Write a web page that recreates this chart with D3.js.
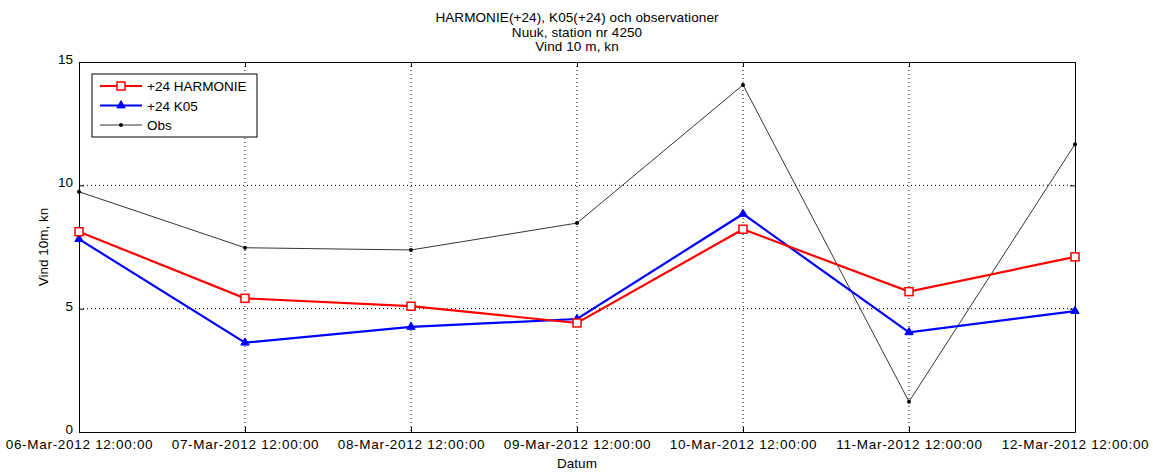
<!DOCTYPE html>
<html><head><meta charset="utf-8">
<script src="https://cdn.jsdelivr.net/npm/d3@7"></script>
<style>body{margin:0;background:#fff}text{font-family:"Liberation Sans",Arial,sans-serif}</style>
</head><body><svg id="c" width="1153" height="475"></svg>
<script>
const dates = ["06-Mar-2012 12:00:00","07-Mar-2012 12:00:00","08-Mar-2012 12:00:00","09-Mar-2012 12:00:00","10-Mar-2012 12:00:00","11-Mar-2012 12:00:00","12-Mar-2012 12:00:00"];
const harmonie = [8.12, 5.42, 5.1, 4.42, 8.22, 5.69, 7.1];
const k05 = [7.82, 3.62, 4.26, 4.58, 8.84, 4.04, 4.9];
const obs = [9.74, 7.47, 7.38, 8.47, 14.07, 1.23, 11.67];
const yTicks = [0, 5, 10, 15];
const titleLines = ["HARMONIE(+24), K05(+24) och observationer","Nuuk, station nr 4250","Vind 10 m, kn"];

const svg = d3.select("#c");
const L=79, R=1075, T=62, B=432;
const FS = 13.5;
const x = d3.scalePoint().domain(d3.range(dates.length)).range([L,R]);
const y = d3.scaleLinear().domain([0,15]).range([B,T]);

// grid
const g = svg.append("g");
g.selectAll(".gx").data(d3.range(1,dates.length-1)).join("line")
 .attr("x1",d=>x(d)).attr("x2",d=>x(d)).attr("y1",T).attr("y2",B)
 .attr("stroke","#000").attr("stroke-width",1).attr("stroke-dasharray","1,3");
g.selectAll(".gy").data(yTicks.slice(1,-1)).join("line")
 .attr("x1",L).attr("x2",R).attr("y1",d=>y(d)).attr("y2",d=>y(d))
 .attr("stroke","#000").attr("stroke-width",1).attr("stroke-dasharray","1,3");

// axes
const ax = svg.append("g").attr("transform",`translate(0,${B})`)
 .call(d3.axisBottom(x).tickSizeInner(-5).tickSizeOuter(0).tickFormat(i=>dates[i]).tickPadding(7));
const axT = svg.append("g").attr("transform",`translate(0,${T})`)
 .call(d3.axisTop(x).tickSizeInner(-5).tickSizeOuter(0).tickFormat(""));
const ay = svg.append("g").attr("transform",`translate(${L},0)`)
 .call(d3.axisLeft(y).tickValues(yTicks).tickSizeInner(-5).tickSizeOuter(0).tickPadding(6));
const ayR = svg.append("g").attr("transform",`translate(${R},0)`)
 .call(d3.axisRight(y).tickValues(yTicks).tickSizeInner(-5).tickSizeOuter(0).tickFormat(""));
[ax,axT,ay,ayR].forEach(a=>{a.selectAll("path").attr("stroke","#000");a.selectAll("line").attr("stroke","#000");
 a.selectAll("text").attr("font-size",FS).attr("fill","#000").style("font-family","'Liberation Sans',Arial,sans-serif");});
ax.selectAll("text").attr("letter-spacing",0.7);
ay.selectAll("text").attr("dy","0.1em");

// lines
const line = d3.line().x((d,i)=>x(i)).y(d=>y(d));
svg.append("path").datum(obs).attr("d",line).attr("fill","none").attr("stroke","#000").attr("stroke-width",0.8);
svg.append("g").selectAll("circle").data(obs).join("circle").attr("cx",(d,i)=>x(i)).attr("cy",d=>y(d)).attr("r",2).attr("fill","#000");

svg.append("path").datum(k05).attr("d",line).attr("fill","none").attr("stroke","#0000ff").attr("stroke-width",2.2);
const tri = d3.symbol().type(d3.symbolTriangle).size(30);
svg.append("g").selectAll("path").data(k05).join("path").attr("d",tri)
 .attr("transform",(d,i)=>`translate(${x(i)},${y(d)})`).attr("fill","#0000ff").attr("stroke","#0000ff");

svg.append("path").datum(harmonie).attr("d",line).attr("fill","none").attr("stroke","#ff0000").attr("stroke-width",2.2);
svg.append("g").selectAll("rect").data(harmonie).join("rect")
 .attr("x",(d,i)=>x(i)-4).attr("y",d=>y(d)-4).attr("width",8).attr("height",8)
 .attr("fill","#fff").attr("stroke","#ff0000").attr("stroke-width",1.5);

// legend
const lg = svg.append("g");
lg.append("rect").attr("x",92).attr("y",74).attr("width",165).attr("height",63).attr("fill","#fff").attr("stroke","#000").attr("stroke-width",1);
const items = [{n:"+24 HARMONIE",c:"#ff0000",w:2.2,m:"sq"},{n:"+24 K05",c:"#0000ff",w:2.2,m:"tri"},{n:"Obs",c:"#000",w:0.8,m:"dot"}];
items.forEach((it,i)=>{
 const yy = 86+i*19.5;
 lg.append("line").attr("x1",100).attr("x2",142).attr("y1",yy).attr("y2",yy).attr("stroke",it.c).attr("stroke-width",it.w);
 if(it.m==="sq") lg.append("rect").attr("x",117).attr("y",yy-4).attr("width",8).attr("height",8).attr("fill","#fff").attr("stroke",it.c).attr("stroke-width",1.5);
 if(it.m==="tri") lg.append("path").attr("d",tri).attr("transform",`translate(121,${yy})`).attr("fill",it.c).attr("stroke",it.c);
 if(it.m==="dot") lg.append("circle").attr("cx",121).attr("cy",yy).attr("r",2).attr("fill",it.c);
 lg.append("text").attr("x",147).attr("y",yy+5).attr("font-size",FS).text(it.n);
});

// titles
svg.append("g").selectAll("text").data(titleLines).join("text")
 .attr("x",(L+R)/2).attr("y",(d,i)=>22+i*14.5).attr("text-anchor","middle").attr("font-size",FS).attr("letter-spacing",0.1).text(d=>d);
svg.append("text").attr("x",(L+R)/2).attr("y",468).attr("text-anchor","middle").attr("font-size",FS).text("Datum");
svg.append("text").attr("transform",`translate(48,${(T+B)/2}) rotate(-90)`).attr("text-anchor","middle").attr("font-size",FS).text("Vind 10m, kn");
</script></body></html>
